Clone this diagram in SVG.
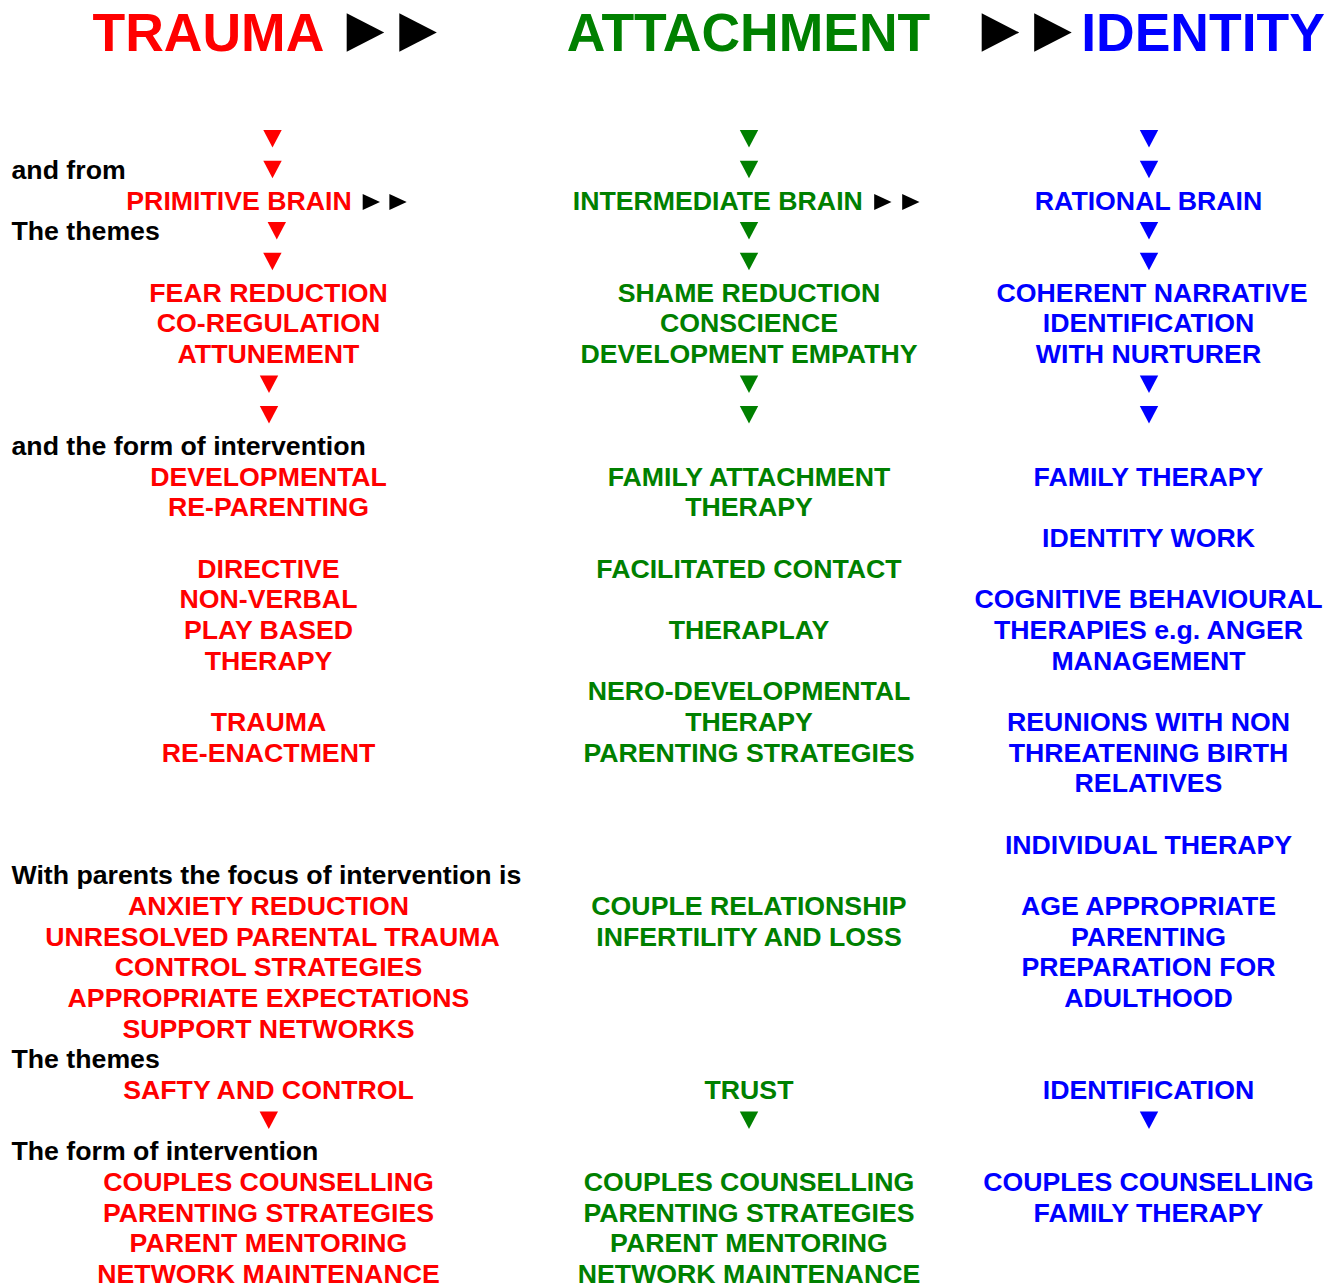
<svg xmlns="http://www.w3.org/2000/svg" xmlns:xlink="http://www.w3.org/1999/xlink" width="1334" height="1284" viewBox="0 0 1334 1284">
<style>
text{font-family:"Liberation Sans",Arial,sans-serif;font-weight:bold;font-size:26.7px}
.h{font-size:53.5px;text-anchor:middle}
.c{text-anchor:middle}
.r{fill:#ff0000}
.g{fill:#008000}
.b{fill:#0000ff}
.k{fill:#000000}
</style>
<defs>
<path id="dn" d="M-9.2,0 L9.2,0 L0,17.5Z"/>
<path id="rt" d="M0,0 L17.3,8 L0,16Z"/>
<path id="rtb" d="M0,0 L37.5,19.2 L0,38.4Z"/>
</defs>
<rect width="1334" height="1284" fill="#ffffff"/>

<g id="headers">
<text class="h r" x="208.4" y="50.7">TRAUMA</text>
<text class="h g" x="748.5" y="50.7">ATTACHMENT</text>
<text class="h b" x="1203" y="50.7">IDENTITY</text>
</g>

<g id="labels" class="k">
<text x="11.5" y="179.1">and from</text>
<text x="11.5" y="240.4">The themes</text>
<text x="11.5" y="455">and the form of intervention</text>
<text x="11.5" y="884.2">With parents the focus of intervention is</text>
<text x="11.5" y="1068.2">The themes</text>
<text x="11.5" y="1160.2">The form of intervention</text>
</g>

<g id="trauma" class="r">
<text class="c" x="239" y="209.7">PRIMITIVE BRAIN</text>
<text class="c" x="268.5" y="301.7">FEAR REDUCTION</text>
<text class="c" x="268.5" y="332.4">CO-REGULATION</text>
<text class="c" x="268.5" y="363">ATTUNEMENT</text>
<text class="c" x="268.5" y="485.7">DEVELOPMENTAL</text>
<text class="c" x="268.5" y="516.3">RE-PARENTING</text>
<text class="c" x="268.5" y="577.6">DIRECTIVE</text>
<text class="c" x="268.5" y="608.3">NON-VERBAL</text>
<text class="c" x="268.5" y="639">PLAY BASED</text>
<text class="c" x="268.5" y="669.6">THERAPY</text>
<text class="c" x="268.5" y="731">TRAUMA</text>
<text class="c" x="268.5" y="761.6">RE-ENACTMENT</text>
<text class="c" x="268.5" y="914.9">ANXIETY REDUCTION</text>
<text class="c" x="272.5" y="945.6">UNRESOLVED PARENTAL TRAUMA</text>
<text class="c" x="268.5" y="976.2">CONTROL STRATEGIES</text>
<text class="c" x="268.5" y="1006.9">APPROPRIATE EXPECTATIONS</text>
<text class="c" x="268.5" y="1037.5">SUPPORT NETWORKS</text>
<text class="c" x="268.5" y="1098.9">SAFTY AND CONTROL</text>
<text class="c" x="268.5" y="1190.8">COUPLES COUNSELLING</text>
<text class="c" x="268.5" y="1221.5">PARENTING STRATEGIES</text>
<text class="c" x="268.5" y="1252.2">PARENT MENTORING</text>
<text class="c" x="268.5" y="1282.8">NETWORK MAINTENANCE</text>
</g>

<g id="attachment" class="g">
<text class="c" x="717.8" y="209.7">INTERMEDIATE BRAIN</text>
<text class="c" x="749" y="301.7">SHAME REDUCTION</text>
<text class="c" x="749" y="332.4">CONSCIENCE</text>
<text class="c" x="749" y="363">DEVELOPMENT EMPATHY</text>
<text class="c" x="749" y="485.7">FAMILY ATTACHMENT</text>
<text class="c" x="749" y="516.3">THERAPY</text>
<text class="c" x="749" y="577.6">FACILITATED CONTACT</text>
<text class="c" x="749" y="639">THERAPLAY</text>
<text class="c" x="749" y="700.3">NERO-DEVELOPMENTAL</text>
<text class="c" x="749" y="731">THERAPY</text>
<text class="c" x="749" y="761.6">PARENTING STRATEGIES</text>
<text class="c" x="749" y="914.9">COUPLE RELATIONSHIP</text>
<text class="c" x="749" y="945.6">INFERTILITY AND LOSS</text>
<text class="c" x="749" y="1098.9">TRUST</text>
<text class="c" x="749" y="1190.8">COUPLES COUNSELLING</text>
<text class="c" x="749" y="1221.5">PARENTING STRATEGIES</text>
<text class="c" x="749" y="1252.2">PARENT MENTORING</text>
<text class="c" x="749" y="1282.8">NETWORK MAINTENANCE</text>
</g>

<g id="identity" class="b">
<text class="c" x="1148.5" y="209.7">RATIONAL BRAIN</text>
<text class="c" x="1152" y="301.7">COHERENT NARRATIVE</text>
<text class="c" x="1148.5" y="332.4">IDENTIFICATION</text>
<text class="c" x="1148.5" y="363">WITH NURTURER</text>
<text class="c" x="1148.5" y="485.7">FAMILY THERAPY</text>
<text class="c" x="1148.5" y="547">IDENTITY WORK</text>
<text class="c" x="1148.5" y="608.3">COGNITIVE BEHAVIOURAL</text>
<text class="c" x="1148.5" y="639">THERAPIES e.g. ANGER</text>
<text class="c" x="1148.5" y="669.6">MANAGEMENT</text>
<text class="c" x="1148.5" y="731">REUNIONS WITH NON</text>
<text class="c" x="1148.5" y="761.6">THREATENING BIRTH</text>
<text class="c" x="1148.5" y="792.3">RELATIVES</text>
<text class="c" x="1148.5" y="853.6">INDIVIDUAL THERAPY</text>
<text class="c" x="1148.5" y="914.9">AGE APPROPRIATE</text>
<text class="c" x="1148.5" y="945.6">PARENTING</text>
<text class="c" x="1148.5" y="976.2">PREPARATION FOR</text>
<text class="c" x="1148.5" y="1006.9">ADULTHOOD</text>
<text class="c" x="1148.5" y="1098.9">IDENTIFICATION</text>
<text class="c" x="1148.5" y="1190.8">COUPLES COUNSELLING</text>
<text class="c" x="1148.5" y="1221.5">FAMILY THERAPY</text>
</g>

<g id="connectors">
<g fill="#000000">
<use xlink:href="#rtb" x="346.7" y="13.3"/>
<use xlink:href="#rtb" x="399.3" y="13.3"/>
<use xlink:href="#rtb" x="981.7" y="13.3"/>
<use xlink:href="#rtb" x="1034.2" y="13.3"/>
<use xlink:href="#rt" x="362.7" y="194"/>
<use xlink:href="#rt" x="389.4" y="194"/>
<use xlink:href="#rt" x="874.2" y="194"/>
<use xlink:href="#rt" x="902.2" y="194"/>
</g>
<g fill="#ff0000">
<use xlink:href="#dn" x="272.5" y="130"/>
<use xlink:href="#dn" x="272.5" y="160.7"/>
<use xlink:href="#dn" x="276.8" y="222"/>
<use xlink:href="#dn" x="272.4" y="252.7"/>
<use xlink:href="#dn" x="269" y="375.4"/>
<use xlink:href="#dn" x="269" y="406"/>
<use xlink:href="#dn" x="268.8" y="1111.4"/>
</g>
<g fill="#008000">
<use xlink:href="#dn" x="749" y="130"/>
<use xlink:href="#dn" x="749" y="160.7"/>
<use xlink:href="#dn" x="749" y="222"/>
<use xlink:href="#dn" x="749" y="252.7"/>
<use xlink:href="#dn" x="749" y="375.4"/>
<use xlink:href="#dn" x="749" y="406"/>
<use xlink:href="#dn" x="749" y="1111.4"/>
</g>
<g fill="#0000ff">
<use xlink:href="#dn" x="1149" y="130"/>
<use xlink:href="#dn" x="1149" y="160.7"/>
<use xlink:href="#dn" x="1149" y="222"/>
<use xlink:href="#dn" x="1149" y="252.7"/>
<use xlink:href="#dn" x="1149" y="375.4"/>
<use xlink:href="#dn" x="1149" y="406"/>
<use xlink:href="#dn" x="1149" y="1111.4"/>
</g>
</g>
</svg>
